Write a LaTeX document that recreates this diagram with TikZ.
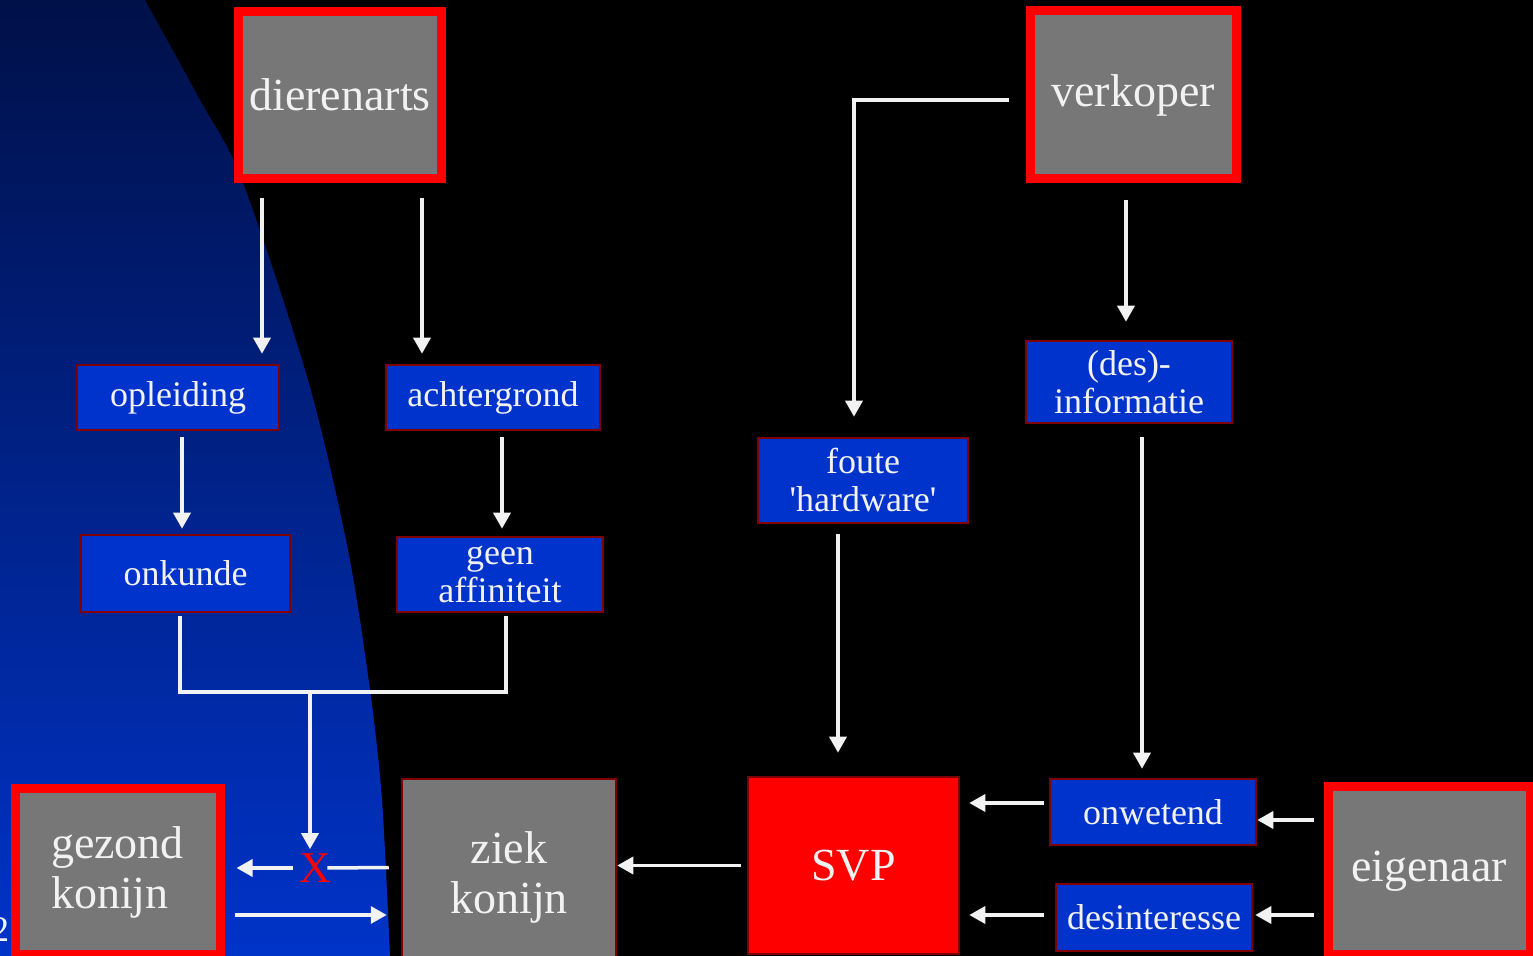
\documentclass[tikz,border=0pt]{standalone}
\usepackage{fontspec}
\setmainfont{Liberation Serif}
\usetikzlibrary{calc,arrows.meta}
\definecolor{grijs}{RGB}{119,119,119}
\definecolor{donkerrood}{RGB}{128,0,0}
\definecolor{vakblauw}{RGB}{0,51,204}
\definecolor{wit}{RGB}{242,242,242}
\tikzset{
  groot/.style={draw=red, fill=grijs, line width=4.5pt, text=wit, align=center,
    inner sep=0pt, font=\fontsize{23}{25}\selectfont},
  klein/.style={draw=donkerrood, fill=vakblauw, line width=1.25pt, text=wit, align=center,
    inner sep=0pt, font=\fontsize{18}{19}\selectfont},
  pijl/.style={draw=wit, line width=1.75pt, -{Triangle[width=8.5pt,length=8pt]}},
  lijn/.style={draw=wit, line width=1.75pt},
}

\begin{document}
\begin{tikzpicture}[x=0.5pt,y=-0.5pt]
\useasboundingbox (0,0) rectangle (1533,956);
\fill[black] (0,0) rectangle (1533,956);
\shade[top color={rgb,255:red,0;green,16;blue,72}, middle color={rgb,255:red,0;green,41;blue,168},
  bottom color={rgb,255:red,0;green,51;blue,200}]
  (0,0) -- plot[smooth] coordinates {(145,0) (200,100) (242,180) (308,380) (348,550) (370,690) (382,800) (390,956)}
  -- (0,956) -- cycle;
\node[text=wit, font=\fontsize{18}{18}\selectfont] (nr) at (0,930) {2};

% grote vakken
\node[groot, minimum width=101.5pt, minimum height=83.5pt] (dierenarts) at (340,95) {dierenarts};
\node[groot, minimum width=103pt, minimum height=84pt] (verkoper) at (1133,95) {verkoper};
\node[groot, minimum width=102.5pt, minimum height=83pt, align=left] (gezond) at (117.5,872) {gezond\\konijn};
\node[groot, minimum width=101pt, minimum height=84pt] (eigenaar) at (1429,871) {eigenaar};
\node[groot, draw=donkerrood, line width=1.25pt, minimum width=107pt, minimum height=98pt] (ziek) at (509,877) {ziek\\konijn};
\node[groot, draw=donkerrood, fill=red, line width=1.25pt, minimum width=105.5pt, minimum height=88.5pt] (SVP) at (853.5,865.5) {SVP};

% kleine vakken
\node[klein, minimum width=101pt, minimum height=32.5pt] (opleiding) at (178,397.5) {opleiding};
\node[klein, minimum width=107pt, minimum height=32.5pt] (achtergrond) at (493,397.5) {achtergrond};
\node[klein, minimum width=104.5pt, minimum height=38.5pt] (onkunde) at (185.5,573.5) {onkunde};
\node[klein, minimum width=103pt, minimum height=37.5pt] (geen) at (500,574.5) {geen\\affiniteit};
\node[klein, minimum width=105pt, minimum height=42.5pt] (foute) at (863,480.5) {foute\\\textquotesingle hardware\textquotesingle};
\node[klein, minimum width=103pt, minimum height=41pt] (des) at (1129,382) {(des)-\\informatie};
\node[klein, minimum width=103pt, minimum height=33pt] (onwetend) at (1153,812) {onwetend};
\node[klein, minimum width=98pt, minimum height=33.5pt] (desint) at (1154,917.5) {desinteresse};
\node[text=red, inner sep=0pt, font=\fontsize{22}{22}\selectfont] (kruis) at (315,868) {X};

% pijlen links
\draw[pijl] ($(dierenarts.south)+(-78,15)$) -- ($(opleiding.north)+(84,-10)$);
\draw[pijl] ($(dierenarts.south)+(82,15)$) -- ($(achtergrond.north)+(-71,-10)$);
\draw[pijl] ($(opleiding.south)+(4,6)$) -- ($(onkunde.north)+(-3.5,-5)$);
\draw[pijl] ($(achtergrond.south)+(9,6)$) -- ($(geen.north)+(2,-7)$);
\draw[lijn] ($(onkunde.south)+(-5.5,3)$) -- ++(0,76) -| ($(geen.south)+(6,3)$);
\coordinate (knik) at (310,691);
\draw[pijl, shorten >=2pt] (knik) -- (knik |- kruis.north);
\draw[lijn] ($(ziek.west)+(-12,-9.5)$) -- ($(kruis.east)+(-4,0)$);
\draw[pijl] ($(kruis.west)+(-6,0)$) -- ($(gezond.east)+(12,-4)$);
\draw[pijl] ($(gezond.east)+(10,43)$) -- ($(ziek.west)+(-14,38)$);
\draw[pijl, shorten <=3pt] (SVP.west) -- (SVP.west -| ziek.east);

% pijlen rechts
\draw[pijl] ($(verkoper.west)+(-17,5)$) -| ($(foute.north)+(-9,-20)$);
\draw[pijl] ($(verkoper.south)+(-7,17)$) -- ($(des.north)+(-3,-18)$);
\draw[pijl] ($(foute.south)+(-25,10)$) -- ($(SVP.north)+(-15.5,-23)$);
\draw[pijl] ($(des.south)+(13,13)$) -- ($(onwetend.north)+(-11,-9)$);
\draw[pijl] ($(onwetend.west)+(-5,-9)$) -- ($(SVP.east)+(9,-62.5)$);
\draw[pijl] ($(desint.west)+(-11,-2.5)$) -- ($(SVP.east)+(9,49.5)$);
\draw[pijl] ($(eigenaar.west)+(-10,-51)$) -- ($(onwetend.east)+(0,8)$);
\draw[pijl] ($(eigenaar.west)+(-10,44)$) -- ($(desint.east)+(2,-2.5)$);
\end{tikzpicture}
\end{document}
